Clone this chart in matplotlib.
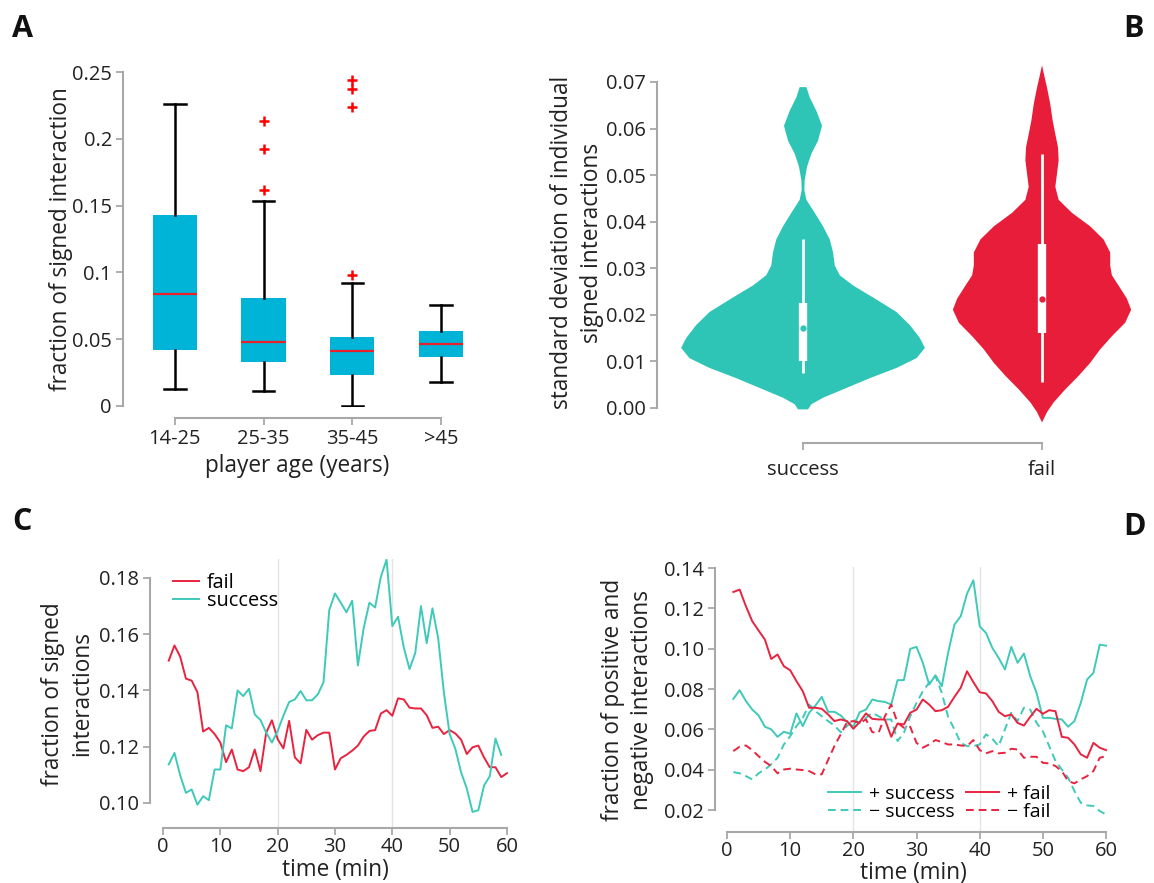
import numpy as np
import matplotlib
matplotlib.use("Agg")
import matplotlib.pyplot as plt

plt.rcParams["font.family"] = ["Open Sans", "DejaVu Sans"]

W, H = 1154, 883

# ---- panel A: box plot stats ----
age_groups = ["14-25", "25-35", "35-45", ">45"]
a_whislo = [0.0127, 0.0115, 0.0, 0.0182]
a_q1 = [0.0421, 0.0329, 0.0232, 0.0369]
a_med = [0.0837, 0.0476, 0.0414, 0.0461]
a_q3 = [0.1428, 0.0805, 0.0513, 0.0561]
a_whishi = [0.2258, 0.1533, 0.0922, 0.0753]
a_fliers = [[], [0.2131, 0.1922, 0.162], [0.2443, 0.2375, 0.2236, 0.0982], []]

# ---- panel B: violin outlines (y level, relative half width) ----
outcomes = ["success", "fail"]
succ_y = [-0.0003, 0.0008, 0.0022, 0.0043, 0.0064, 0.0086, 0.0107, 0.0129, 0.0150,
          0.0178, 0.0206, 0.0235, 0.0263, 0.0285, 0.0306, 0.0334, 0.0362, 0.0390,
          0.0419, 0.0447, 0.0468, 0.0489, 0.0518, 0.0546, 0.0574, 0.0606, 0.0638,
          0.0667, 0.0689]
succ_w = [15, 25, 60, 130, 200, 280, 340, 365, 350, 320, 280, 215, 150, 110, 95,
          90, 80, 60, 35, 10, 4, 5, 12, 25, 45, 57, 40, 20, 10]
fail_y = [-0.0031, -0.0009, 0.0012, 0.0040, 0.0069, 0.0097, 0.0126, 0.0154, 0.0183,
          0.0211, 0.0235, 0.0263, 0.0285, 0.0306, 0.0334, 0.0362, 0.0390, 0.0419,
          0.0447, 0.0475, 0.0503, 0.0532, 0.0560, 0.0588, 0.0617, 0.0652, 0.0688,
          0.0716, 0.0736]
fail_w = [0, 15, 35, 70, 110, 145, 175, 210, 250, 268, 255, 230, 210, 205, 205,
          185, 145, 90, 50, 40, 45, 50, 48, 40, 32, 25, 15, 6, 0]
b_whislo = [0.0076, 0.0055]
b_q1 = [0.0101, 0.0161]
b_med = [0.0172, 0.0233]
b_q3 = [0.0225, 0.0353]
b_whishi = [0.0363, 0.0546]

# ---- panel C ----
t_fail = list(range(1, 61))
c_fail = [0.1506, 0.156, 0.152, 0.1442, 0.1435, 0.1394, 0.1254, 0.1267, 0.1245, 0.1215,
          0.1145, 0.119, 0.1119, 0.1113, 0.1127, 0.119, 0.1113, 0.125, 0.1294, 0.1227,
          0.1194, 0.1292, 0.1162, 0.1141, 0.126, 0.1225, 0.1241, 0.125, 0.125, 0.1119,
          0.1159, 0.1171, 0.1186, 0.1204, 0.1236, 0.1256, 0.1259, 0.1318, 0.133, 0.131,
          0.1372, 0.1368, 0.1339, 0.1336, 0.1336, 0.1312, 0.1267, 0.1271, 0.1245, 0.1259,
          0.1247, 0.1225, 0.1174, 0.1198, 0.1204, 0.1162, 0.1127, 0.1127, 0.1092, 0.1106]
t_succ = list(range(1, 60))
c_succ = [0.1137, 0.1178, 0.1098, 0.1036, 0.1048, 0.0994, 0.1024, 0.101, 0.1119, 0.1119,
          0.1276, 0.1265, 0.14, 0.138, 0.1406, 0.1315, 0.1295, 0.125, 0.1215, 0.1256,
          0.131, 0.1359, 0.1368, 0.1398, 0.1365, 0.1365, 0.1386, 0.1429, 0.1686, 0.1745,
          0.1712, 0.1678, 0.1719, 0.1489, 0.1621, 0.1712, 0.1695, 0.1804, 0.1865, 0.1629,
          0.1662, 0.1553, 0.1476, 0.1533, 0.17, 0.1568, 0.1692, 0.1586, 0.1392, 0.1245,
          0.1192, 0.1109, 0.1051, 0.0968, 0.0974, 0.1062, 0.1095, 0.1229, 0.1171]

# ---- panel D ----
t_d = list(range(1, 61))
d_pos_succ = [0.0751, 0.0794, 0.074, 0.0698, 0.0669, 0.0613, 0.06, 0.0563, 0.0588, 0.0578,
              0.0679, 0.0616, 0.0682, 0.0718, 0.0761, 0.0687, 0.0687, 0.0669, 0.0636, 0.0613,
              0.0685, 0.0698, 0.0748, 0.074, 0.0736, 0.0723, 0.0844, 0.0844, 0.0999, 0.1009,
              0.093, 0.0822, 0.0868, 0.0814, 0.0979, 0.1119, 0.1161, 0.1273, 0.1339, 0.1111,
              0.1078, 0.1004, 0.0954, 0.0897, 0.1009, 0.093, 0.0976, 0.0864, 0.0781, 0.0657,
              0.0657, 0.0652, 0.0649, 0.0613, 0.0641, 0.0731, 0.0847, 0.088, 0.102, 0.1015]
d_neg_succ = [0.0388, 0.0382, 0.0368, 0.0352, 0.0382, 0.0401, 0.0426, 0.0459, 0.0525, 0.0566,
              0.0616, 0.0657, 0.0723, 0.069, 0.0665, 0.0641, 0.0619, 0.0586, 0.0616, 0.0649,
              0.0632, 0.0657, 0.0682, 0.0665, 0.0649, 0.0649, 0.0542, 0.0583, 0.0665, 0.0731,
              0.0789, 0.0831, 0.0864, 0.0781, 0.0662, 0.06, 0.0533, 0.0517, 0.0517, 0.0525,
              0.0575, 0.0553, 0.0517, 0.06, 0.0682, 0.0641, 0.0707, 0.0698, 0.0632, 0.0591,
              0.0517, 0.0443, 0.0401, 0.036, 0.0294, 0.0236, 0.0223, 0.022, 0.0195, 0.0178]
d_pos_fail = [0.1281, 0.1293, 0.121, 0.1136, 0.109, 0.1045, 0.0949, 0.0971, 0.0913, 0.0893,
              0.0839, 0.0789, 0.0707, 0.0707, 0.0702, 0.0674, 0.0641, 0.0649, 0.0641, 0.0603,
              0.0636, 0.0679, 0.0652, 0.0649, 0.0649, 0.0563, 0.0629, 0.0624, 0.0682, 0.0698,
              0.0748, 0.0723, 0.069, 0.0695, 0.0712, 0.0761, 0.0806, 0.0888, 0.0834, 0.0784,
              0.0778, 0.074, 0.0687, 0.0665, 0.0674, 0.0632, 0.0619, 0.0662, 0.0702, 0.0677,
              0.0695, 0.069, 0.0563, 0.0558, 0.0525, 0.0476, 0.0459, 0.0533, 0.0509, 0.0497]
d_neg_fail = [0.0492, 0.0514, 0.052, 0.0497, 0.0467, 0.0439, 0.0418, 0.0382, 0.0401, 0.0405,
              0.0401, 0.0398, 0.0393, 0.0377, 0.0377, 0.0448, 0.0517, 0.0575, 0.0636, 0.0641,
              0.0632, 0.0649, 0.0586, 0.0583, 0.0665, 0.0723, 0.0632, 0.0608, 0.0613, 0.0533,
              0.0509, 0.0525, 0.0547, 0.0537, 0.0525, 0.0525, 0.052, 0.0517, 0.0547, 0.0497,
              0.0481, 0.0492, 0.0481, 0.0484, 0.0504, 0.05, 0.0459, 0.0464, 0.0464, 0.0434,
              0.0431, 0.0418, 0.0393, 0.0344, 0.0332, 0.0352, 0.0368, 0.0393, 0.0459, 0.0467]

TEAL = "#2ec4b6"
RED = "#e81d3a"
LTEAL = "#3ec9b9"
LRED = "#e8233f"
BLUE = "#00b4d8"
SPINE = "#a8a8a8"
TXT = "#222222"
TICK_FS = 14.5
LAB_FS = 16.3
LEG_FS = 14.3
LSP = 1.3


def px_axes(fig, left, top, right, bottom):
    return fig.add_axes([left / W, 1 - bottom / H, (right - left) / W, (bottom - top) / H])


def style(ax):
    for s in ["top", "right"]:
        ax.spines[s].set_visible(False)
    for s in ["left", "bottom"]:
        ax.spines[s].set_color(SPINE)
        ax.spines[s].set_linewidth(1.5)
    ax.tick_params(length=5, width=1.3, color=SPINE, labelcolor=TXT,
                   labelsize=TICK_FS, pad=3)


fig = plt.figure(figsize=(W / 100, H / 100), dpi=100)

# ---------------- A ----------------
ax = px_axes(fig, 123, 70.7, 472, 407.3)
stats = []
for i in range(4):
    stats.append(dict(whislo=a_whislo[i], q1=a_q1[i], med=a_med[i], q3=a_q3[i],
                      whishi=a_whishi[i], fliers=a_fliers[i]))
ax.bxp(stats, positions=[1, 2, 3, 4], widths=0.5, capwidths=0.24, patch_artist=True,
       boxprops=dict(facecolor=BLUE, edgecolor="none"),
       medianprops=dict(color="#e8202a", lw=1.6),
       whiskerprops=dict(color="black", lw=1.8),
       capprops=dict(color="black", lw=1.8),
       flierprops=dict(marker="+", markeredgecolor="red", markersize=7, mew=1.8))
ax.set_xlim(0.415, 4.35)
ax.set_ylim(-0.001, 0.251)
style(ax)
ax.spines["bottom"].set_position(("outward", 7.7))
ax.spines["bottom"].set_bounds(1, 4)
ax.spines["left"].set_bounds(0, 0.25)
ax.set_xticks([1, 2, 3, 4])
ax.set_xticklabels(age_groups)
ax.set_yticks([0, 0.05, 0.1, 0.15, 0.2, 0.25])
ax.set_yticklabels(["0", "0.05", "0.1", "0.15", "0.2", "0.25"])
ax.set_ylabel("fraction of signed interaction", fontsize=LAB_FS, color=TXT)
ax.yaxis.set_label_coords(-0.143, 0.5)
ax.set_xlabel("player age (years)", fontsize=LAB_FS, color=TXT)
ax.xaxis.set_label_coords(0.5, -0.14)

# ---------------- B ----------------
ax = px_axes(fig, 657, 58.7, 1140, 426.6)
vp = [dict(coords=np.array(succ_y), vals=np.array(succ_w, float),
           mean=b_med[0], median=b_med[0], min=succ_y[0], max=succ_y[-1]),
      dict(coords=np.array(fail_y), vals=np.array(fail_w, float),
           mean=b_med[1], median=b_med[1], min=fail_y[0], max=fail_y[-1])]
parts = ax.violin(vp, positions=[0, 1], widths=[1.02, 0.746],
                  showmeans=False, showextrema=False, showmedians=False)
for body, c in zip(parts["bodies"], [TEAL, RED]):
    body.set_facecolor(c)
    body.set_edgecolor("none")
    body.set_alpha(1)
for i, c in enumerate([TEAL, RED]):
    ax.vlines(i, b_whislo[i], b_whishi[i], color="white", lw=2.0, zorder=3)
    ax.vlines(i, b_q1[i], b_q3[i], color="white", lw=6.0, zorder=3)
    ax.plot(i, b_med[i], "o", color=c, ms=3.5, zorder=4)
ax.set_xlim(-0.611, 1.41)
ax.set_ylim(-0.004, 0.075)
style(ax)
ax.spines["bottom"].set_position(("outward", 11.8))
ax.spines["bottom"].set_bounds(0, 1)
ax.spines["left"].set_bounds(0, 0.07)
ax.set_xticks([0, 1])
ax.set_xticklabels(outcomes)
ax.tick_params(axis="x", pad=7)
ax.set_yticks([0, 0.01, 0.02, 0.03, 0.04, 0.05, 0.06, 0.07])
ax.set_yticklabels(["%.2f" % v for v in ax.get_yticks()])
ax.set_ylabel("standard deviation of individual\nsigned interactions",
              fontsize=LAB_FS, color=TXT, linespacing=LSP)
ax.yaxis.set_label_coords(-0.11, 0.5)

# ---------------- C ----------------
ax = px_axes(fig, 150, 559.4, 510, 828)
ax.axvline(20, color="#e4e4e4", lw=1, zorder=0)
ax.axvline(40, color="#e4e4e4", lw=1, zorder=0)
ax.plot(t_fail, c_fail, color=LRED, lw=1.4, label="fail")
ax.plot(t_succ, c_succ, color=LTEAL, lw=1.4, label="success")
ax.set_xlim(-2.27, 60.53)
ax.set_ylim(0.0911, 0.1866)
style(ax)
ax.tick_params(axis="x", pad=1.5)
ax.spines["bottom"].set_bounds(0, 60)
ax.spines["left"].set_bounds(0.10, 0.18)
ax.set_xticks(range(0, 61, 10))
ax.set_yticks([0.10, 0.12, 0.14, 0.16, 0.18])
ax.set_yticklabels(["%.2f" % v for v in ax.get_yticks()])
ax.set_ylabel("fraction of signed\ninteractions", fontsize=LAB_FS, color=TXT,
              linespacing=LSP)
ax.yaxis.set_label_coords(-0.155, 0.5)
ax.set_xlabel("time (min)", fontsize=LAB_FS, color=TXT)
ax.xaxis.set_label_coords(0.514, -0.112)
ax.legend(loc="upper left", bbox_to_anchor=(0.037, 0.985), frameon=False,
          fontsize=LEG_FS, handlelength=1.3, handletextpad=0.4, labelspacing=-0.1,
          borderpad=0)

# ---------------- D ----------------
ax = px_axes(fig, 715, 567, 1109, 832)
ax.axvline(20, color="#e4e4e4", lw=1, zorder=0)
ax.axvline(40, color="#e4e4e4", lw=1, zorder=0)
dash = (0, (4, 2.5))
ax.plot(t_d, d_pos_succ, color=LTEAL, lw=1.4, label="+ success")
ax.plot(t_d, d_neg_succ, color=LTEAL, lw=1.4, ls=dash, label="\u2212 success")
ax.plot(t_d, d_pos_fail, color=LRED, lw=1.4, label="+ fail")
ax.plot(t_d, d_neg_fail, color=LRED, lw=1.4, ls=dash, label="\u2212 fail")
ax.set_xlim(-1.9, 60.47)
ax.set_ylim(0.0091, 0.1405)
style(ax)
ax.tick_params(axis="x", pad=1.5)
ax.spines["bottom"].set_bounds(0, 60)
ax.spines["left"].set_bounds(0.02, 0.14)
ax.set_xticks(range(0, 61, 10))
ax.set_yticks([0.02, 0.04, 0.06, 0.08, 0.10, 0.12, 0.14])
ax.set_yticklabels(["%.2f" % v for v in ax.get_yticks()])
ax.set_ylabel("fraction of positive and\nnegative interactions", fontsize=LAB_FS,
              color=TXT, linespacing=LSP)
ax.yaxis.set_label_coords(-0.155, 0.5)
ax.set_xlabel("time (min)", fontsize=LAB_FS, color=TXT)
ax.xaxis.set_label_coords(0.503, -0.108)
ax.legend(loc="lower right", bbox_to_anchor=(0.876, 0.005), ncol=2, frameon=False,
          fontsize=14, handlelength=1.7, handletextpad=0.4, labelspacing=0.0,
          columnspacing=0.6, borderpad=0)

# panel letters
for lab, x, y in [("A", 22, 29), ("B", 1134, 29), ("C", 22, 522), ("D", 1135, 527)]:
    fig.text(x / W, 1 - y / H, lab, fontsize=22, fontweight="bold",
             ha="center", va="center", color="#111111")

fig.savefig("out.png", dpi=100)
